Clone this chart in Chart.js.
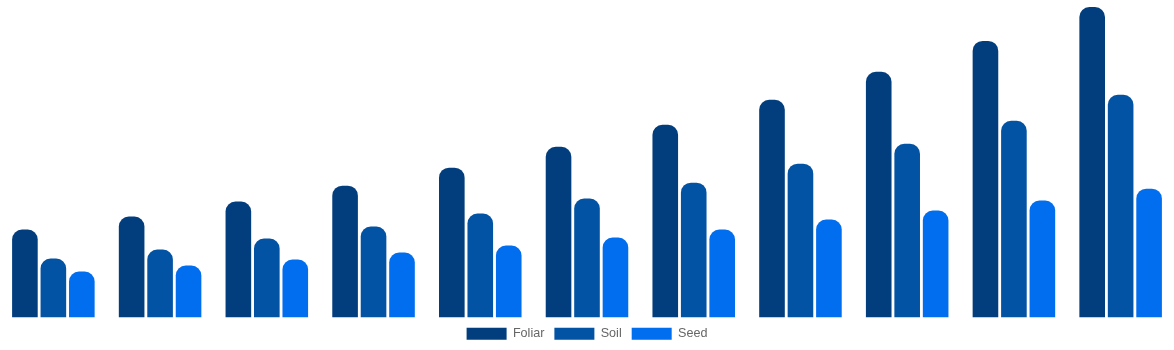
<!DOCTYPE html>
<html>
<head>
<meta charset="utf-8">
<script src="https://cdn.jsdelivr.net/npm/chart.js@4/dist/chart.umd.min.js"></script>
<style>
  html, body { margin:0; padding:0; background:#fff; }
  #wrap { width:1174px; height:350px; }
</style>
</head>
<body>
<div id="wrap"><canvas id="appChart"></canvas></div>
<script>
const years = ['2020','2021','2022','2023','2024','2025','2026','2027','2028','2029','2030'];
const foliar = [8.8, 10.1, 11.6, 13.2, 15.0, 17.1, 19.3, 21.8, 24.6, 27.7, 31.1];
const soil   = [5.9, 6.8, 7.9, 9.1, 10.4, 11.9, 13.5, 15.4, 17.4, 19.7, 22.3];
const seed   = [4.6, 5.2, 5.8, 6.5, 7.2, 8.0, 8.8, 9.8, 10.7, 11.7, 12.9];

const colors = { foliar:'#023e7d', soil:'#0353a4', seed:'#006eee' };

new Chart(document.getElementById('appChart'), {
  type:'bar',
  data:{
    labels:years,
    datasets:[
      {label:'Foliar', data:foliar, backgroundColor:colors.foliar, borderRadius:10},
      {label:'Soil', data:soil, backgroundColor:colors.soil, borderRadius:10},
      {label:'Seed', data:seed, backgroundColor:colors.seed, borderRadius:10},
    ]
  },
  options:{
    responsive:true,
    maintainAspectRatio:false,
    animation:false,
    plugins:{
      legend:{position:'bottom', labels:{font:{size:12.6}, boxHeight:12}},
      tooltip:{enabled:false}
    },
    scales:{
      x:{display:false},
      y:{display:false, beginAtZero:true, max:31.8}
    }
  }
});
</script>
</body>
</html>
